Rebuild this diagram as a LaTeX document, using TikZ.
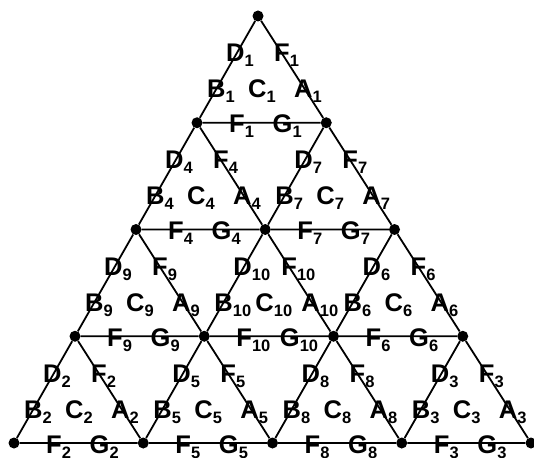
\documentclass[tikz,border=0pt]{standalone}
\usepackage{fontspec}
\setmainfont{Liberation Sans}
\newcommand\lsub[1]{\raisebox{-5pt}{\fontsize{16.5pt}{17pt}\selectfont #1}}

\begin{document}
\begin{tikzpicture}[x=1pt, y=-1pt,
  dot/.style={circle, fill=black, inner sep=0pt, minimum size=11pt},
  edge/.style={line width=1.8pt},
  lab/.style={anchor=base west, inner sep=0pt,
    font=\bfseries\fontsize{25.5pt}{26pt}\selectfont}]
\useasboundingbox (0,0) rectangle (534,457);
% lattice points, row \j counted from the base
\foreach \j in {0,...,4} {
  \pgfmathtruncatemacro\last{4-\j}
  \foreach \i in {0,...,\last}
    \node[dot] (v-\i-\j) at ({14+129.25*\i+61*\j}, {443-106.75*\j}) {};
}
% upward triangles: lower left corner i/j, then its number
\foreach \i/\j/\k in {0/0/2, 1/0/5, 2/0/8, 3/0/3, 0/1/9, 1/1/10, 2/1/6,
    0/2/4, 1/2/7, 0/3/1} {
  \pgfmathtruncatemacro\ii{\i+1}
  \pgfmathtruncatemacro\jj{\j+1}
  \draw[edge] (v-\i-\j) -- (v-\ii-\j) -- (v-\i-\jj) -- (v-\i-\j);
  \node[lab] (d\k) at ([shift={(29,-61)}]v-\i-\j.center) {D\lsub{\k}};
  \node[lab] (ft\k) at ([shift={(77,-61)}]v-\i-\j.center) {F\lsub{\k}};
  \node[lab] (b\k) at ([shift={(10,-25)}]v-\i-\j.center) {B\lsub{\k}};
  \node[lab] (c\k) at ([shift={(51,-25)}]v-\i-\j.center) {C\lsub{\k}};
  \node[lab] (a\k) at ([shift={(97,-25)}]v-\i-\j.center) {A\lsub{\k}};
  \node[lab] (fb\k) at ([shift={(32,10)}]v-\i-\j.center) {F\lsub{\k}};
  \node[lab] (g\k) at ([shift={(75.5,10)}]v-\i-\j.center) {G\lsub{\k}};
}
\end{tikzpicture}
\end{document}
